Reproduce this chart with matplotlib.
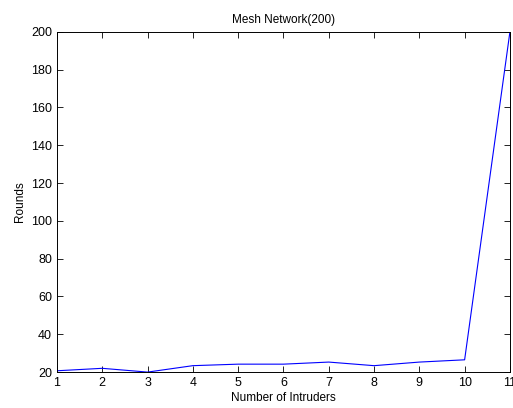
import matplotlib.pyplot as plt

# data
intruders = [1, 2, 3, 4, 5, 6, 7, 8, 9, 10, 11]
rounds = [20.7, 22, 20, 23.4, 24.2, 24.2, 25.3, 23.4, 25.3, 26.5, 200]

plt.rcParams['font.family'] = ['Liberation Sans', 'DejaVu Sans']

fig = plt.figure(figsize=(5.13, 4.08), dpi=100)
ax = fig.add_axes([0.111, 0.088, 0.883, 0.834])

ax.plot(intruders, rounds, color='blue', linewidth=0.8)

ax.set_xlim(1, 11)
ax.set_ylim(20, 200)
ax.set_xticks(intruders)
ax.set_yticks(range(20, 201, 20))
ax.tick_params(direction='in', top=True, right=True, labelsize=9, length=4, width=0.6)
for s in ax.spines.values():
    s.set_linewidth(0.7)

ax.set_xlabel('Number of Intruders', fontsize=8.5, labelpad=2)
ax.set_ylabel('Rounds', fontsize=8.5, labelpad=4)
ax.set_title('Mesh Network(200)', fontsize=8.5, pad=6)

fig.savefig('out.png', dpi=100)
